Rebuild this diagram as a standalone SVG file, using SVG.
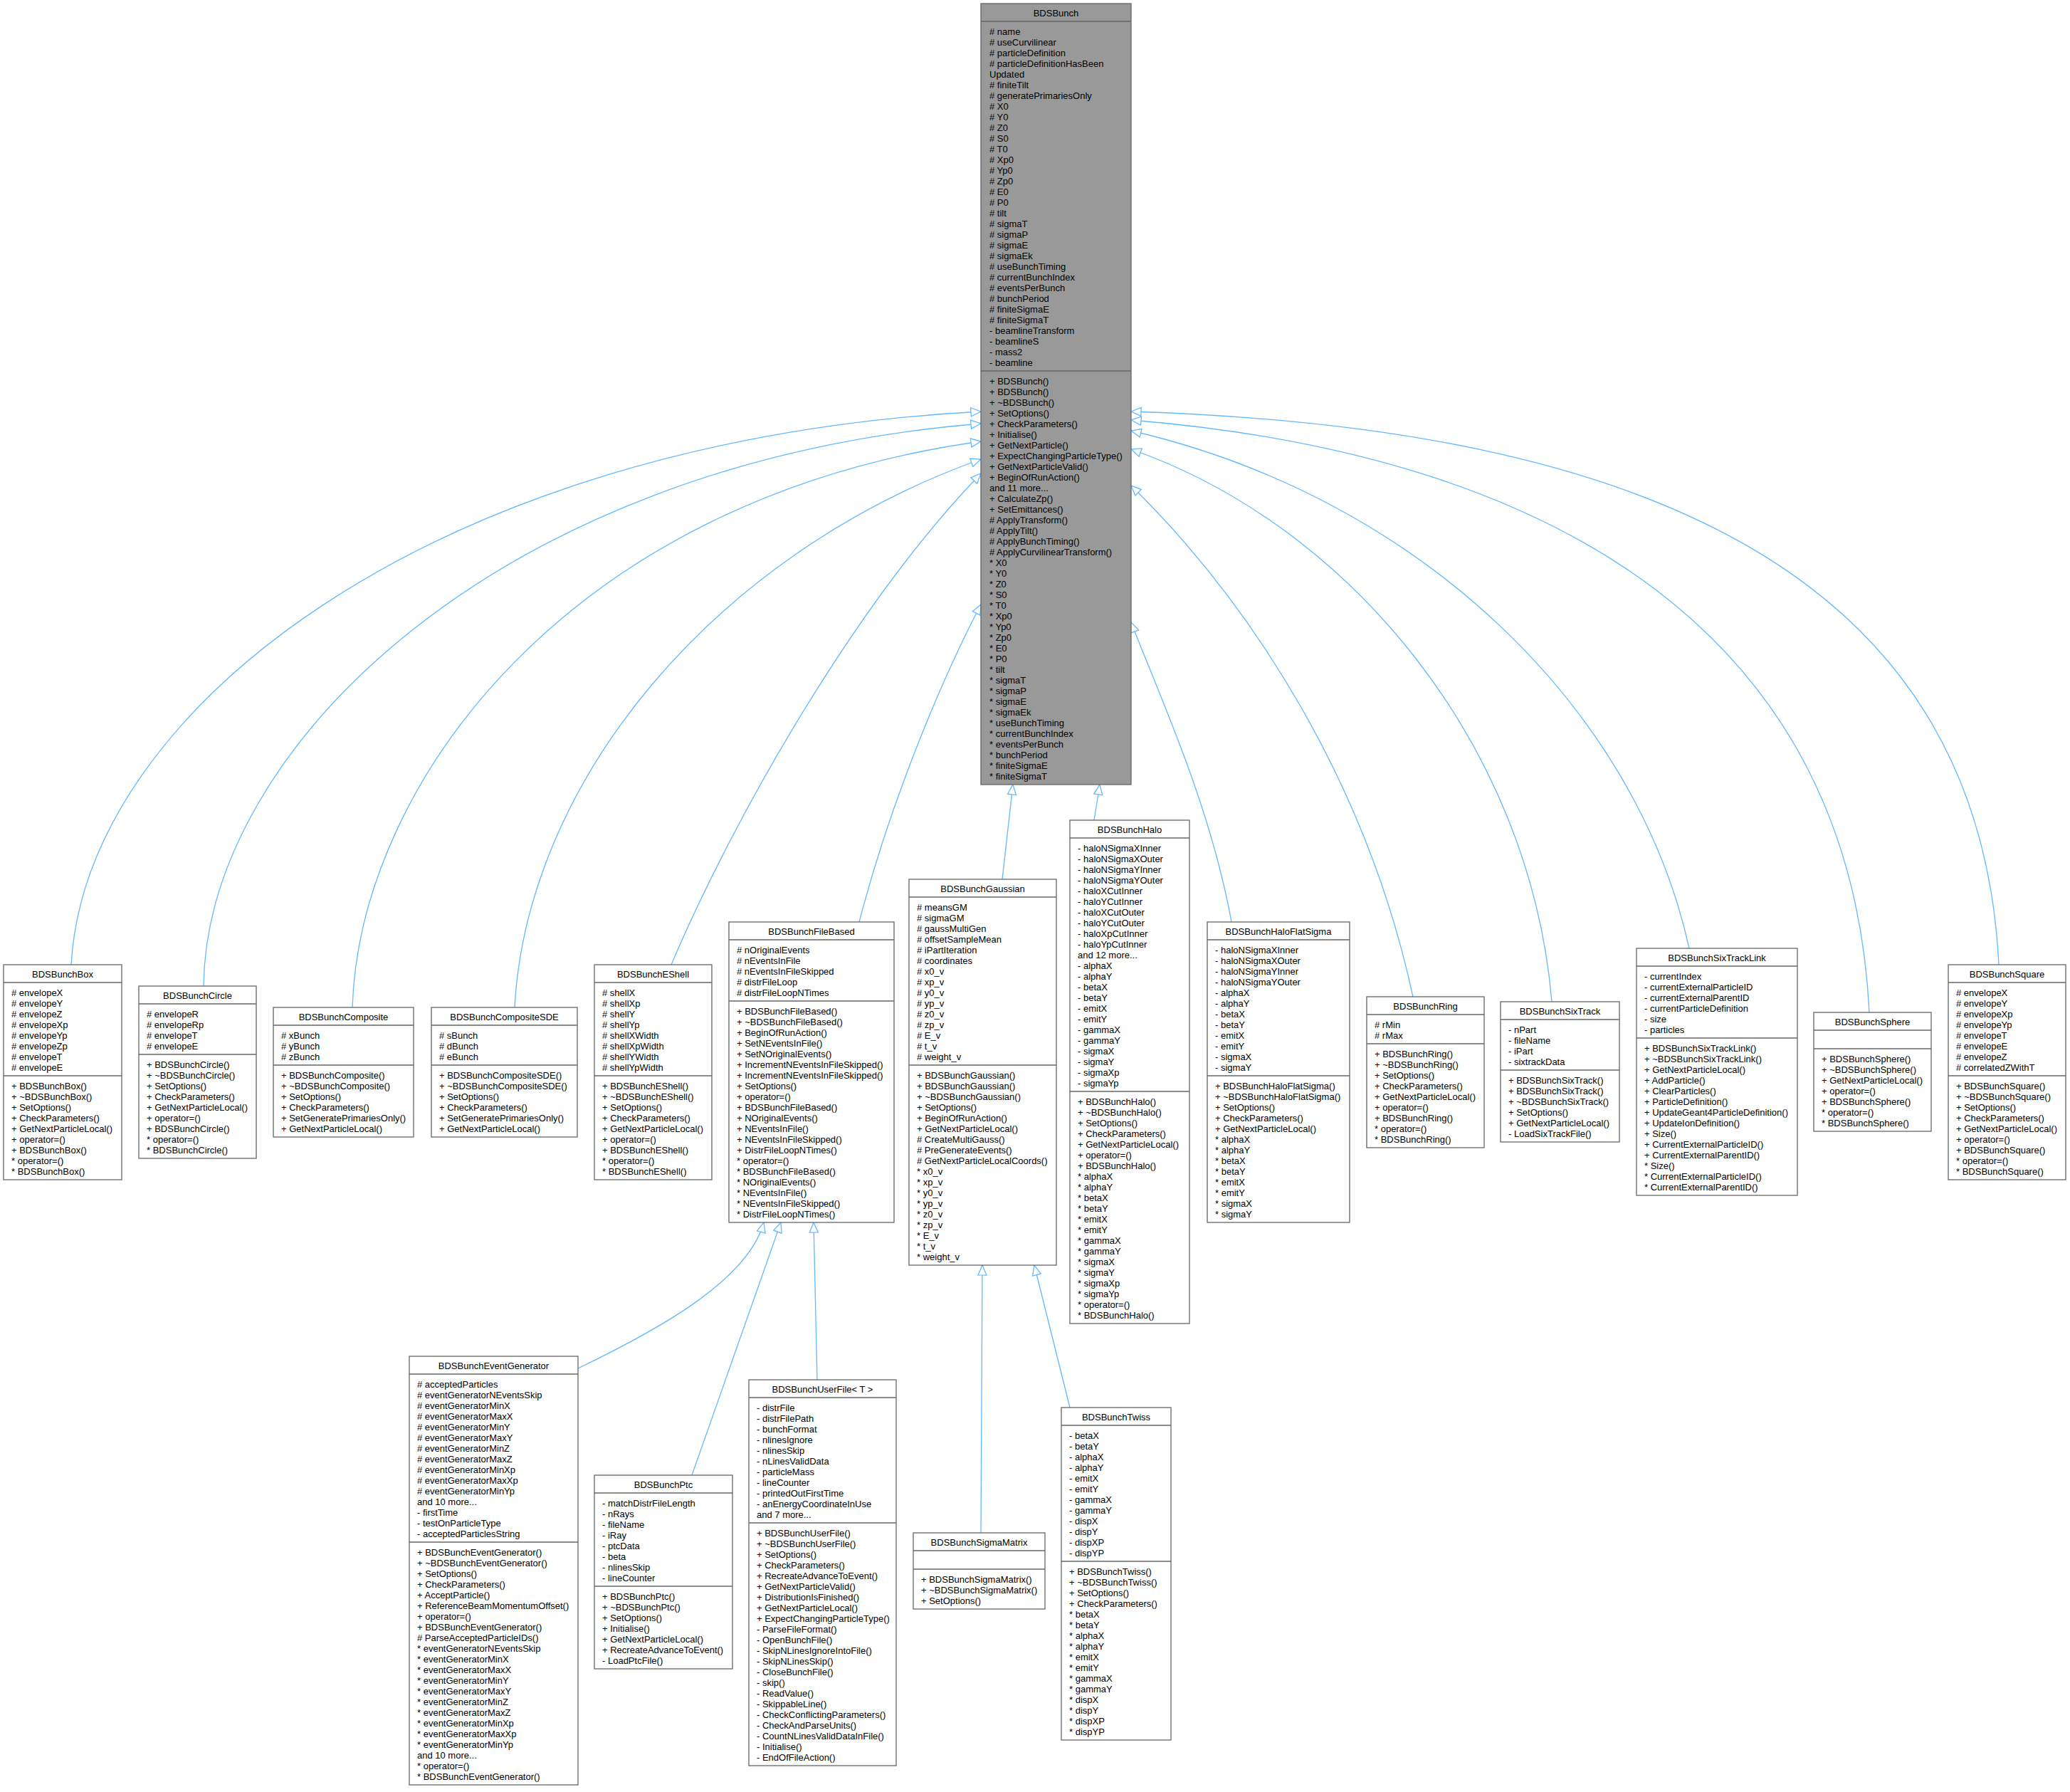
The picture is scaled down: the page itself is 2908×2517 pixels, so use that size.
<svg xmlns="http://www.w3.org/2000/svg" width="2908" height="2517" viewBox="0 0 2908 2517">
<style>
.bg{fill:#fff}
.box{fill:#fff;stroke:#666;stroke-width:1.3}
.root{fill:#999;stroke:#666;stroke-width:1.3}
.dv{stroke:#666;stroke-width:1.3}
text{font-family:"Liberation Sans",Arial,Helvetica,sans-serif;font-size:13px;fill:#000}
.c{text-anchor:middle}
.e path{fill:none;stroke:#63B8FF;stroke-width:1.3;marker-end:url(#tri)}
</style>
<defs>
<marker id="tri" markerUnits="userSpaceOnUse" markerWidth="18" markerHeight="16" refX="15" refY="7" orient="auto">
<path d="M1,1 L15,7 L1,13 Z" fill="#fff" stroke="#63B8FF" stroke-width="1.3"/>
</marker>
</defs>
<rect class="bg" x="0" y="0" width="2908" height="2517"/>
<g id="edges" class="e">
<path d="M100,1355 C120,1000 600,620 1378,578"/>
<path d="M286,1385 C290,1050 700,650 1378,595"/>
<path d="M495,1415 C505,1100 800,700 1378,620"/>
<path d="M723,1415 C740,1100 1000,780 1378,645"/>
<path d="M943,1355 C1030,1150 1200,850 1378,665"/>
<path d="M1207,1295 C1250,1130 1320,960 1378,849"/>
<path d="M1408,1235 L1423,1102"/>
<path d="M1537,1152 L1545,1102"/>
<path d="M1730,1295 C1700,1130 1630,980 1589,874"/>
<path d="M1985,1400 C1920,1100 1760,850 1589,682"/>
<path d="M2180,1407 C2150,1050 1900,740 1589,631"/>
<path d="M2373,1332 C2300,1000 2000,700 1589,605"/>
<path d="M2626,1422 C2600,900 2200,640 1589,590"/>
<path d="M2808,1355 C2780,800 2300,600 1589,578"/>
<path d="M812,1922 C920,1870 1050,1800 1073,1717"/>
<path d="M972,2072 L1097,1717"/>
<path d="M1148,1938 L1143,1717"/>
<path d="M1378,2153 L1380,1777"/>
<path d="M1503,1977 L1453,1777"/>
</g>

<g id="BDSBunch">
<rect class="root" x="1378" y="5" width="211" height="1097"/>
<line class="dv" x1="1378" y1="30" x2="1589" y2="30"/>
<line class="dv" x1="1378" y1="521" x2="1589" y2="521"/>
<text class="c" x="1483.5" y="22.5">BDSBunch</text>
<text y="48.5"><tspan x="1390"># name</tspan><tspan x="1390" dy="15"># useCurvilinear</tspan><tspan x="1390" dy="15"># particleDefinition</tspan><tspan x="1390" dy="15"># particleDefinitionHasBeen</tspan><tspan x="1390" dy="15">Updated</tspan><tspan x="1390" dy="15"># finiteTilt</tspan><tspan x="1390" dy="15"># generatePrimariesOnly</tspan><tspan x="1390" dy="15"># X0</tspan><tspan x="1390" dy="15"># Y0</tspan><tspan x="1390" dy="15"># Z0</tspan><tspan x="1390" dy="15"># S0</tspan><tspan x="1390" dy="15"># T0</tspan><tspan x="1390" dy="15"># Xp0</tspan><tspan x="1390" dy="15"># Yp0</tspan><tspan x="1390" dy="15"># Zp0</tspan><tspan x="1390" dy="15"># E0</tspan><tspan x="1390" dy="15"># P0</tspan><tspan x="1390" dy="15"># tilt</tspan><tspan x="1390" dy="15"># sigmaT</tspan><tspan x="1390" dy="15"># sigmaP</tspan><tspan x="1390" dy="15"># sigmaE</tspan><tspan x="1390" dy="15"># sigmaEk</tspan><tspan x="1390" dy="15"># useBunchTiming</tspan><tspan x="1390" dy="15"># currentBunchIndex</tspan><tspan x="1390" dy="15"># eventsPerBunch</tspan><tspan x="1390" dy="15"># bunchPeriod</tspan><tspan x="1390" dy="15"># finiteSigmaE</tspan><tspan x="1390" dy="15"># finiteSigmaT</tspan><tspan x="1390" dy="15">- beamlineTransform</tspan><tspan x="1390" dy="15">- beamlineS</tspan><tspan x="1390" dy="15">- mass2</tspan><tspan x="1390" dy="15">- beamline</tspan></text>
<text y="539.5"><tspan x="1390">+ BDSBunch()</tspan><tspan x="1390" dy="15">+ BDSBunch()</tspan><tspan x="1390" dy="15">+ ~BDSBunch()</tspan><tspan x="1390" dy="15">+ SetOptions()</tspan><tspan x="1390" dy="15">+ CheckParameters()</tspan><tspan x="1390" dy="15">+ Initialise()</tspan><tspan x="1390" dy="15">+ GetNextParticle()</tspan><tspan x="1390" dy="15">+ ExpectChangingParticleType()</tspan><tspan x="1390" dy="15">+ GetNextParticleValid()</tspan><tspan x="1390" dy="15">+ BeginOfRunAction()</tspan><tspan x="1390" dy="15">and 11 more...</tspan><tspan x="1390" dy="15">+ CalculateZp()</tspan><tspan x="1390" dy="15">+ SetEmittances()</tspan><tspan x="1390" dy="15"># ApplyTransform()</tspan><tspan x="1390" dy="15"># ApplyTilt()</tspan><tspan x="1390" dy="15"># ApplyBunchTiming()</tspan><tspan x="1390" dy="15"># ApplyCurvilinearTransform()</tspan><tspan x="1390" dy="15">* X0</tspan><tspan x="1390" dy="15">* Y0</tspan><tspan x="1390" dy="15">* Z0</tspan><tspan x="1390" dy="15">* S0</tspan><tspan x="1390" dy="15">* T0</tspan><tspan x="1390" dy="15">* Xp0</tspan><tspan x="1390" dy="15">* Yp0</tspan><tspan x="1390" dy="15">* Zp0</tspan><tspan x="1390" dy="15">* E0</tspan><tspan x="1390" dy="15">* P0</tspan><tspan x="1390" dy="15">* tilt</tspan><tspan x="1390" dy="15">* sigmaT</tspan><tspan x="1390" dy="15">* sigmaP</tspan><tspan x="1390" dy="15">* sigmaE</tspan><tspan x="1390" dy="15">* sigmaEk</tspan><tspan x="1390" dy="15">* useBunchTiming</tspan><tspan x="1390" dy="15">* currentBunchIndex</tspan><tspan x="1390" dy="15">* eventsPerBunch</tspan><tspan x="1390" dy="15">* bunchPeriod</tspan><tspan x="1390" dy="15">* finiteSigmaE</tspan><tspan x="1390" dy="15">* finiteSigmaT</tspan></text>
</g>

<g id="BDSBunchBox">
<rect class="box" x="5" y="1355" width="166" height="302"/>
<line class="dv" x1="5" y1="1380" x2="171" y2="1380"/>
<line class="dv" x1="5" y1="1511" x2="171" y2="1511"/>
<text class="c" x="88" y="1372.5">BDSBunchBox</text>
<text y="1398.5"><tspan x="16"># envelopeX</tspan><tspan x="16" dy="15"># envelopeY</tspan><tspan x="16" dy="15"># envelopeZ</tspan><tspan x="16" dy="15"># envelopeXp</tspan><tspan x="16" dy="15"># envelopeYp</tspan><tspan x="16" dy="15"># envelopeZp</tspan><tspan x="16" dy="15"># envelopeT</tspan><tspan x="16" dy="15"># envelopeE</tspan></text>
<text y="1529.5"><tspan x="16">+ BDSBunchBox()</tspan><tspan x="16" dy="15">+ ~BDSBunchBox()</tspan><tspan x="16" dy="15">+ SetOptions()</tspan><tspan x="16" dy="15">+ CheckParameters()</tspan><tspan x="16" dy="15">+ GetNextParticleLocal()</tspan><tspan x="16" dy="15">+ operator=()</tspan><tspan x="16" dy="15">+ BDSBunchBox()</tspan><tspan x="16" dy="15">* operator=()</tspan><tspan x="16" dy="15">* BDSBunchBox()</tspan></text>
</g>

<g id="BDSBunchCircle">
<rect class="box" x="195" y="1385" width="165" height="242"/>
<line class="dv" x1="195" y1="1410" x2="360" y2="1410"/>
<line class="dv" x1="195" y1="1481" x2="360" y2="1481"/>
<text class="c" x="277.5" y="1402.5">BDSBunchCircle</text>
<text y="1428.5"><tspan x="206"># envelopeR</tspan><tspan x="206" dy="15"># envelopeRp</tspan><tspan x="206" dy="15"># envelopeT</tspan><tspan x="206" dy="15"># envelopeE</tspan></text>
<text y="1499.5"><tspan x="206">+ BDSBunchCircle()</tspan><tspan x="206" dy="15">+ ~BDSBunchCircle()</tspan><tspan x="206" dy="15">+ SetOptions()</tspan><tspan x="206" dy="15">+ CheckParameters()</tspan><tspan x="206" dy="15">+ GetNextParticleLocal()</tspan><tspan x="206" dy="15">+ operator=()</tspan><tspan x="206" dy="15">+ BDSBunchCircle()</tspan><tspan x="206" dy="15">* operator=()</tspan><tspan x="206" dy="15">* BDSBunchCircle()</tspan></text>
</g>

<g id="BDSBunchComposite">
<rect class="box" x="384" y="1415" width="197" height="182"/>
<line class="dv" x1="384" y1="1440" x2="581" y2="1440"/>
<line class="dv" x1="384" y1="1496" x2="581" y2="1496"/>
<text class="c" x="482.5" y="1432.5">BDSBunchComposite</text>
<text y="1458.5"><tspan x="395"># xBunch</tspan><tspan x="395" dy="15"># yBunch</tspan><tspan x="395" dy="15"># zBunch</tspan></text>
<text y="1514.5"><tspan x="395">+ BDSBunchComposite()</tspan><tspan x="395" dy="15">+ ~BDSBunchComposite()</tspan><tspan x="395" dy="15">+ SetOptions()</tspan><tspan x="395" dy="15">+ CheckParameters()</tspan><tspan x="395" dy="15">+ SetGeneratePrimariesOnly()</tspan><tspan x="395" dy="15">+ GetNextParticleLocal()</tspan></text>
</g>

<g id="BDSBunchCompositeSDE">
<rect class="box" x="606" y="1415" width="205" height="182"/>
<line class="dv" x1="606" y1="1440" x2="811" y2="1440"/>
<line class="dv" x1="606" y1="1496" x2="811" y2="1496"/>
<text class="c" x="708.5" y="1432.5">BDSBunchCompositeSDE</text>
<text y="1458.5"><tspan x="617"># sBunch</tspan><tspan x="617" dy="15"># dBunch</tspan><tspan x="617" dy="15"># eBunch</tspan></text>
<text y="1514.5"><tspan x="617">+ BDSBunchCompositeSDE()</tspan><tspan x="617" dy="15">+ ~BDSBunchCompositeSDE()</tspan><tspan x="617" dy="15">+ SetOptions()</tspan><tspan x="617" dy="15">+ CheckParameters()</tspan><tspan x="617" dy="15">+ SetGeneratePrimariesOnly()</tspan><tspan x="617" dy="15">+ GetNextParticleLocal()</tspan></text>
</g>

<g id="BDSBunchEShell">
<rect class="box" x="835" y="1355" width="165" height="302"/>
<line class="dv" x1="835" y1="1380" x2="1000" y2="1380"/>
<line class="dv" x1="835" y1="1511" x2="1000" y2="1511"/>
<text class="c" x="917.5" y="1372.5">BDSBunchEShell</text>
<text y="1398.5"><tspan x="846"># shellX</tspan><tspan x="846" dy="15"># shellXp</tspan><tspan x="846" dy="15"># shellY</tspan><tspan x="846" dy="15"># shellYp</tspan><tspan x="846" dy="15"># shellXWidth</tspan><tspan x="846" dy="15"># shellXpWidth</tspan><tspan x="846" dy="15"># shellYWidth</tspan><tspan x="846" dy="15"># shellYpWidth</tspan></text>
<text y="1529.5"><tspan x="846">+ BDSBunchEShell()</tspan><tspan x="846" dy="15">+ ~BDSBunchEShell()</tspan><tspan x="846" dy="15">+ SetOptions()</tspan><tspan x="846" dy="15">+ CheckParameters()</tspan><tspan x="846" dy="15">+ GetNextParticleLocal()</tspan><tspan x="846" dy="15">+ operator=()</tspan><tspan x="846" dy="15">+ BDSBunchEShell()</tspan><tspan x="846" dy="15">* operator=()</tspan><tspan x="846" dy="15">* BDSBunchEShell()</tspan></text>
</g>

<g id="BDSBunchFileBased">
<rect class="box" x="1024" y="1295" width="232" height="422"/>
<line class="dv" x1="1024" y1="1320" x2="1256" y2="1320"/>
<line class="dv" x1="1024" y1="1406" x2="1256" y2="1406"/>
<text class="c" x="1140" y="1312.5">BDSBunchFileBased</text>
<text y="1338.5"><tspan x="1035"># nOriginalEvents</tspan><tspan x="1035" dy="15"># nEventsInFile</tspan><tspan x="1035" dy="15"># nEventsInFileSkipped</tspan><tspan x="1035" dy="15"># distrFileLoop</tspan><tspan x="1035" dy="15"># distrFileLoopNTimes</tspan></text>
<text y="1424.5"><tspan x="1035">+ BDSBunchFileBased()</tspan><tspan x="1035" dy="15">+ ~BDSBunchFileBased()</tspan><tspan x="1035" dy="15">+ BeginOfRunAction()</tspan><tspan x="1035" dy="15">+ SetNEventsInFile()</tspan><tspan x="1035" dy="15">+ SetNOriginalEvents()</tspan><tspan x="1035" dy="15">+ IncrementNEventsInFileSkipped()</tspan><tspan x="1035" dy="15">+ IncrementNEventsInFileSkipped()</tspan><tspan x="1035" dy="15">+ SetOptions()</tspan><tspan x="1035" dy="15">+ operator=()</tspan><tspan x="1035" dy="15">+ BDSBunchFileBased()</tspan><tspan x="1035" dy="15">+ NOriginalEvents()</tspan><tspan x="1035" dy="15">+ NEventsInFile()</tspan><tspan x="1035" dy="15">+ NEventsInFileSkipped()</tspan><tspan x="1035" dy="15">+ DistrFileLoopNTimes()</tspan><tspan x="1035" dy="15">* operator=()</tspan><tspan x="1035" dy="15">* BDSBunchFileBased()</tspan><tspan x="1035" dy="15">* NOriginalEvents()</tspan><tspan x="1035" dy="15">* NEventsInFile()</tspan><tspan x="1035" dy="15">* NEventsInFileSkipped()</tspan><tspan x="1035" dy="15">* DistrFileLoopNTimes()</tspan></text>
</g>

<g id="BDSBunchGaussian">
<rect class="box" x="1277" y="1235" width="207" height="542"/>
<line class="dv" x1="1277" y1="1260" x2="1484" y2="1260"/>
<line class="dv" x1="1277" y1="1496" x2="1484" y2="1496"/>
<text class="c" x="1380.5" y="1252.5">BDSBunchGaussian</text>
<text y="1278.5"><tspan x="1288"># meansGM</tspan><tspan x="1288" dy="15"># sigmaGM</tspan><tspan x="1288" dy="15"># gaussMultiGen</tspan><tspan x="1288" dy="15"># offsetSampleMean</tspan><tspan x="1288" dy="15"># iPartIteration</tspan><tspan x="1288" dy="15"># coordinates</tspan><tspan x="1288" dy="15"># x0_v</tspan><tspan x="1288" dy="15"># xp_v</tspan><tspan x="1288" dy="15"># y0_v</tspan><tspan x="1288" dy="15"># yp_v</tspan><tspan x="1288" dy="15"># z0_v</tspan><tspan x="1288" dy="15"># zp_v</tspan><tspan x="1288" dy="15"># E_v</tspan><tspan x="1288" dy="15"># t_v</tspan><tspan x="1288" dy="15"># weight_v</tspan></text>
<text y="1514.5"><tspan x="1288">+ BDSBunchGaussian()</tspan><tspan x="1288" dy="15">+ BDSBunchGaussian()</tspan><tspan x="1288" dy="15">+ ~BDSBunchGaussian()</tspan><tspan x="1288" dy="15">+ SetOptions()</tspan><tspan x="1288" dy="15">+ BeginOfRunAction()</tspan><tspan x="1288" dy="15">+ GetNextParticleLocal()</tspan><tspan x="1288" dy="15"># CreateMultiGauss()</tspan><tspan x="1288" dy="15"># PreGenerateEvents()</tspan><tspan x="1288" dy="15"># GetNextParticleLocalCoords()</tspan><tspan x="1288" dy="15">* x0_v</tspan><tspan x="1288" dy="15">* xp_v</tspan><tspan x="1288" dy="15">* y0_v</tspan><tspan x="1288" dy="15">* yp_v</tspan><tspan x="1288" dy="15">* z0_v</tspan><tspan x="1288" dy="15">* zp_v</tspan><tspan x="1288" dy="15">* E_v</tspan><tspan x="1288" dy="15">* t_v</tspan><tspan x="1288" dy="15">* weight_v</tspan></text>
</g>

<g id="BDSBunchHalo">
<rect class="box" x="1503" y="1152" width="168" height="707"/>
<line class="dv" x1="1503" y1="1177" x2="1671" y2="1177"/>
<line class="dv" x1="1503" y1="1533" x2="1671" y2="1533"/>
<text class="c" x="1587" y="1169.5">BDSBunchHalo</text>
<text y="1195.5"><tspan x="1514">- haloNSigmaXInner</tspan><tspan x="1514" dy="15">- haloNSigmaXOuter</tspan><tspan x="1514" dy="15">- haloNSigmaYInner</tspan><tspan x="1514" dy="15">- haloNSigmaYOuter</tspan><tspan x="1514" dy="15">- haloXCutInner</tspan><tspan x="1514" dy="15">- haloYCutInner</tspan><tspan x="1514" dy="15">- haloXCutOuter</tspan><tspan x="1514" dy="15">- haloYCutOuter</tspan><tspan x="1514" dy="15">- haloXpCutInner</tspan><tspan x="1514" dy="15">- haloYpCutInner</tspan><tspan x="1514" dy="15">and 12 more...</tspan><tspan x="1514" dy="15">- alphaX</tspan><tspan x="1514" dy="15">- alphaY</tspan><tspan x="1514" dy="15">- betaX</tspan><tspan x="1514" dy="15">- betaY</tspan><tspan x="1514" dy="15">- emitX</tspan><tspan x="1514" dy="15">- emitY</tspan><tspan x="1514" dy="15">- gammaX</tspan><tspan x="1514" dy="15">- gammaY</tspan><tspan x="1514" dy="15">- sigmaX</tspan><tspan x="1514" dy="15">- sigmaY</tspan><tspan x="1514" dy="15">- sigmaXp</tspan><tspan x="1514" dy="15">- sigmaYp</tspan></text>
<text y="1551.5"><tspan x="1514">+ BDSBunchHalo()</tspan><tspan x="1514" dy="15">+ ~BDSBunchHalo()</tspan><tspan x="1514" dy="15">+ SetOptions()</tspan><tspan x="1514" dy="15">+ CheckParameters()</tspan><tspan x="1514" dy="15">+ GetNextParticleLocal()</tspan><tspan x="1514" dy="15">+ operator=()</tspan><tspan x="1514" dy="15">+ BDSBunchHalo()</tspan><tspan x="1514" dy="15">* alphaX</tspan><tspan x="1514" dy="15">* alphaY</tspan><tspan x="1514" dy="15">* betaX</tspan><tspan x="1514" dy="15">* betaY</tspan><tspan x="1514" dy="15">* emitX</tspan><tspan x="1514" dy="15">* emitY</tspan><tspan x="1514" dy="15">* gammaX</tspan><tspan x="1514" dy="15">* gammaY</tspan><tspan x="1514" dy="15">* sigmaX</tspan><tspan x="1514" dy="15">* sigmaY</tspan><tspan x="1514" dy="15">* sigmaXp</tspan><tspan x="1514" dy="15">* sigmaYp</tspan><tspan x="1514" dy="15">* operator=()</tspan><tspan x="1514" dy="15">* BDSBunchHalo()</tspan></text>
</g>

<g id="BDSBunchHaloFlatSigma">
<rect class="box" x="1696" y="1295" width="200" height="422"/>
<line class="dv" x1="1696" y1="1320" x2="1896" y2="1320"/>
<line class="dv" x1="1696" y1="1511" x2="1896" y2="1511"/>
<text class="c" x="1796" y="1312.5">BDSBunchHaloFlatSigma</text>
<text y="1338.5"><tspan x="1707">- haloNSigmaXInner</tspan><tspan x="1707" dy="15">- haloNSigmaXOuter</tspan><tspan x="1707" dy="15">- haloNSigmaYInner</tspan><tspan x="1707" dy="15">- haloNSigmaYOuter</tspan><tspan x="1707" dy="15">- alphaX</tspan><tspan x="1707" dy="15">- alphaY</tspan><tspan x="1707" dy="15">- betaX</tspan><tspan x="1707" dy="15">- betaY</tspan><tspan x="1707" dy="15">- emitX</tspan><tspan x="1707" dy="15">- emitY</tspan><tspan x="1707" dy="15">- sigmaX</tspan><tspan x="1707" dy="15">- sigmaY</tspan></text>
<text y="1529.5"><tspan x="1707">+ BDSBunchHaloFlatSigma()</tspan><tspan x="1707" dy="15">+ ~BDSBunchHaloFlatSigma()</tspan><tspan x="1707" dy="15">+ SetOptions()</tspan><tspan x="1707" dy="15">+ CheckParameters()</tspan><tspan x="1707" dy="15">+ GetNextParticleLocal()</tspan><tspan x="1707" dy="15">* alphaX</tspan><tspan x="1707" dy="15">* alphaY</tspan><tspan x="1707" dy="15">* betaX</tspan><tspan x="1707" dy="15">* betaY</tspan><tspan x="1707" dy="15">* emitX</tspan><tspan x="1707" dy="15">* emitY</tspan><tspan x="1707" dy="15">* sigmaX</tspan><tspan x="1707" dy="15">* sigmaY</tspan></text>
</g>

<g id="BDSBunchRing">
<rect class="box" x="1920" y="1400" width="165" height="212"/>
<line class="dv" x1="1920" y1="1425" x2="2085" y2="1425"/>
<line class="dv" x1="1920" y1="1466" x2="2085" y2="1466"/>
<text class="c" x="2002.5" y="1417.5">BDSBunchRing</text>
<text y="1443.5"><tspan x="1931"># rMin</tspan><tspan x="1931" dy="15"># rMax</tspan></text>
<text y="1484.5"><tspan x="1931">+ BDSBunchRing()</tspan><tspan x="1931" dy="15">+ ~BDSBunchRing()</tspan><tspan x="1931" dy="15">+ SetOptions()</tspan><tspan x="1931" dy="15">+ CheckParameters()</tspan><tspan x="1931" dy="15">+ GetNextParticleLocal()</tspan><tspan x="1931" dy="15">+ operator=()</tspan><tspan x="1931" dy="15">+ BDSBunchRing()</tspan><tspan x="1931" dy="15">* operator=()</tspan><tspan x="1931" dy="15">* BDSBunchRing()</tspan></text>
</g>

<g id="BDSBunchSixTrack">
<rect class="box" x="2108" y="1407" width="167" height="197"/>
<line class="dv" x1="2108" y1="1432" x2="2275" y2="1432"/>
<line class="dv" x1="2108" y1="1503" x2="2275" y2="1503"/>
<text class="c" x="2191.5" y="1424.5">BDSBunchSixTrack</text>
<text y="1450.5"><tspan x="2119">- nPart</tspan><tspan x="2119" dy="15">- fileName</tspan><tspan x="2119" dy="15">- iPart</tspan><tspan x="2119" dy="15">- sixtrackData</tspan></text>
<text y="1521.5"><tspan x="2119">+ BDSBunchSixTrack()</tspan><tspan x="2119" dy="15">+ BDSBunchSixTrack()</tspan><tspan x="2119" dy="15">+ ~BDSBunchSixTrack()</tspan><tspan x="2119" dy="15">+ SetOptions()</tspan><tspan x="2119" dy="15">+ GetNextParticleLocal()</tspan><tspan x="2119" dy="15">- LoadSixTrackFile()</tspan></text>
</g>

<g id="BDSBunchSixTrackLink">
<rect class="box" x="2299" y="1332" width="226" height="347"/>
<line class="dv" x1="2299" y1="1357" x2="2525" y2="1357"/>
<line class="dv" x1="2299" y1="1458" x2="2525" y2="1458"/>
<text class="c" x="2412" y="1349.5">BDSBunchSixTrackLink</text>
<text y="1375.5"><tspan x="2310">- currentIndex</tspan><tspan x="2310" dy="15">- currentExternalParticleID</tspan><tspan x="2310" dy="15">- currentExternalParentID</tspan><tspan x="2310" dy="15">- currentParticleDefinition</tspan><tspan x="2310" dy="15">- size</tspan><tspan x="2310" dy="15">- particles</tspan></text>
<text y="1476.5"><tspan x="2310">+ BDSBunchSixTrackLink()</tspan><tspan x="2310" dy="15">+ ~BDSBunchSixTrackLink()</tspan><tspan x="2310" dy="15">+ GetNextParticleLocal()</tspan><tspan x="2310" dy="15">+ AddParticle()</tspan><tspan x="2310" dy="15">+ ClearParticles()</tspan><tspan x="2310" dy="15">+ ParticleDefinition()</tspan><tspan x="2310" dy="15">+ UpdateGeant4ParticleDefinition()</tspan><tspan x="2310" dy="15">+ UpdateIonDefinition()</tspan><tspan x="2310" dy="15">+ Size()</tspan><tspan x="2310" dy="15">+ CurrentExternalParticleID()</tspan><tspan x="2310" dy="15">+ CurrentExternalParentID()</tspan><tspan x="2310" dy="15">* Size()</tspan><tspan x="2310" dy="15">* CurrentExternalParticleID()</tspan><tspan x="2310" dy="15">* CurrentExternalParentID()</tspan></text>
</g>

<g id="BDSBunchSphere">
<rect class="box" x="2548" y="1422" width="165" height="167"/>
<line class="dv" x1="2548" y1="1447" x2="2713" y2="1447"/>
<line class="dv" x1="2548" y1="1473" x2="2713" y2="1473"/>
<text class="c" x="2630.5" y="1439.5">BDSBunchSphere</text>
<text y="1491.5"><tspan x="2559">+ BDSBunchSphere()</tspan><tspan x="2559" dy="15">+ ~BDSBunchSphere()</tspan><tspan x="2559" dy="15">+ GetNextParticleLocal()</tspan><tspan x="2559" dy="15">+ operator=()</tspan><tspan x="2559" dy="15">+ BDSBunchSphere()</tspan><tspan x="2559" dy="15">* operator=()</tspan><tspan x="2559" dy="15">* BDSBunchSphere()</tspan></text>
</g>

<g id="BDSBunchSquare">
<rect class="box" x="2737" y="1355" width="165" height="302"/>
<line class="dv" x1="2737" y1="1380" x2="2902" y2="1380"/>
<line class="dv" x1="2737" y1="1511" x2="2902" y2="1511"/>
<text class="c" x="2819.5" y="1372.5">BDSBunchSquare</text>
<text y="1398.5"><tspan x="2748"># envelopeX</tspan><tspan x="2748" dy="15"># envelopeY</tspan><tspan x="2748" dy="15"># envelopeXp</tspan><tspan x="2748" dy="15"># envelopeYp</tspan><tspan x="2748" dy="15"># envelopeT</tspan><tspan x="2748" dy="15"># envelopeE</tspan><tspan x="2748" dy="15"># envelopeZ</tspan><tspan x="2748" dy="15"># correlatedZWithT</tspan></text>
<text y="1529.5"><tspan x="2748">+ BDSBunchSquare()</tspan><tspan x="2748" dy="15">+ ~BDSBunchSquare()</tspan><tspan x="2748" dy="15">+ SetOptions()</tspan><tspan x="2748" dy="15">+ CheckParameters()</tspan><tspan x="2748" dy="15">+ GetNextParticleLocal()</tspan><tspan x="2748" dy="15">+ operator=()</tspan><tspan x="2748" dy="15">+ BDSBunchSquare()</tspan><tspan x="2748" dy="15">* operator=()</tspan><tspan x="2748" dy="15">* BDSBunchSquare()</tspan></text>
</g>

<g id="BDSBunchEventGenerator">
<rect class="box" x="575" y="1905" width="237" height="602"/>
<line class="dv" x1="575" y1="1930" x2="812" y2="1930"/>
<line class="dv" x1="575" y1="2166" x2="812" y2="2166"/>
<text class="c" x="693.5" y="1922.5">BDSBunchEventGenerator</text>
<text y="1948.5"><tspan x="586"># acceptedParticles</tspan><tspan x="586" dy="15"># eventGeneratorNEventsSkip</tspan><tspan x="586" dy="15"># eventGeneratorMinX</tspan><tspan x="586" dy="15"># eventGeneratorMaxX</tspan><tspan x="586" dy="15"># eventGeneratorMinY</tspan><tspan x="586" dy="15"># eventGeneratorMaxY</tspan><tspan x="586" dy="15"># eventGeneratorMinZ</tspan><tspan x="586" dy="15"># eventGeneratorMaxZ</tspan><tspan x="586" dy="15"># eventGeneratorMinXp</tspan><tspan x="586" dy="15"># eventGeneratorMaxXp</tspan><tspan x="586" dy="15"># eventGeneratorMinYp</tspan><tspan x="586" dy="15">and 10 more...</tspan><tspan x="586" dy="15">- firstTime</tspan><tspan x="586" dy="15">- testOnParticleType</tspan><tspan x="586" dy="15">- acceptedParticlesString</tspan></text>
<text y="2184.5"><tspan x="586">+ BDSBunchEventGenerator()</tspan><tspan x="586" dy="15">+ ~BDSBunchEventGenerator()</tspan><tspan x="586" dy="15">+ SetOptions()</tspan><tspan x="586" dy="15">+ CheckParameters()</tspan><tspan x="586" dy="15">+ AcceptParticle()</tspan><tspan x="586" dy="15">+ ReferenceBeamMomentumOffset()</tspan><tspan x="586" dy="15">+ operator=()</tspan><tspan x="586" dy="15">+ BDSBunchEventGenerator()</tspan><tspan x="586" dy="15"># ParseAcceptedParticleIDs()</tspan><tspan x="586" dy="15">* eventGeneratorNEventsSkip</tspan><tspan x="586" dy="15">* eventGeneratorMinX</tspan><tspan x="586" dy="15">* eventGeneratorMaxX</tspan><tspan x="586" dy="15">* eventGeneratorMinY</tspan><tspan x="586" dy="15">* eventGeneratorMaxY</tspan><tspan x="586" dy="15">* eventGeneratorMinZ</tspan><tspan x="586" dy="15">* eventGeneratorMaxZ</tspan><tspan x="586" dy="15">* eventGeneratorMinXp</tspan><tspan x="586" dy="15">* eventGeneratorMaxXp</tspan><tspan x="586" dy="15">* eventGeneratorMinYp</tspan><tspan x="586" dy="15">and 10 more...</tspan><tspan x="586" dy="15">* operator=()</tspan><tspan x="586" dy="15">* BDSBunchEventGenerator()</tspan></text>
</g>

<g id="BDSBunchPtc">
<rect class="box" x="835" y="2072" width="194" height="272"/>
<line class="dv" x1="835" y1="2097" x2="1029" y2="2097"/>
<line class="dv" x1="835" y1="2228" x2="1029" y2="2228"/>
<text class="c" x="932" y="2089.5">BDSBunchPtc</text>
<text y="2115.5"><tspan x="846">- matchDistrFileLength</tspan><tspan x="846" dy="15">- nRays</tspan><tspan x="846" dy="15">- fileName</tspan><tspan x="846" dy="15">- iRay</tspan><tspan x="846" dy="15">- ptcData</tspan><tspan x="846" dy="15">- beta</tspan><tspan x="846" dy="15">- nlinesSkip</tspan><tspan x="846" dy="15">- lineCounter</tspan></text>
<text y="2246.5"><tspan x="846">+ BDSBunchPtc()</tspan><tspan x="846" dy="15">+ ~BDSBunchPtc()</tspan><tspan x="846" dy="15">+ SetOptions()</tspan><tspan x="846" dy="15">+ Initialise()</tspan><tspan x="846" dy="15">+ GetNextParticleLocal()</tspan><tspan x="846" dy="15">+ RecreateAdvanceToEvent()</tspan><tspan x="846" dy="15">- LoadPtcFile()</tspan></text>
</g>

<g id="BDSBunchUserFile">
<rect class="box" x="1052" y="1938" width="207" height="542"/>
<line class="dv" x1="1052" y1="1963" x2="1259" y2="1963"/>
<line class="dv" x1="1052" y1="2139" x2="1259" y2="2139"/>
<text class="c" x="1155.5" y="1955.5">BDSBunchUserFile&lt; T &gt;</text>
<text y="1981.5"><tspan x="1063">- distrFile</tspan><tspan x="1063" dy="15">- distrFilePath</tspan><tspan x="1063" dy="15">- bunchFormat</tspan><tspan x="1063" dy="15">- nlinesIgnore</tspan><tspan x="1063" dy="15">- nlinesSkip</tspan><tspan x="1063" dy="15">- nLinesValidData</tspan><tspan x="1063" dy="15">- particleMass</tspan><tspan x="1063" dy="15">- lineCounter</tspan><tspan x="1063" dy="15">- printedOutFirstTime</tspan><tspan x="1063" dy="15">- anEnergyCoordinateInUse</tspan><tspan x="1063" dy="15">and 7 more...</tspan></text>
<text y="2157.5"><tspan x="1063">+ BDSBunchUserFile()</tspan><tspan x="1063" dy="15">+ ~BDSBunchUserFile()</tspan><tspan x="1063" dy="15">+ SetOptions()</tspan><tspan x="1063" dy="15">+ CheckParameters()</tspan><tspan x="1063" dy="15">+ RecreateAdvanceToEvent()</tspan><tspan x="1063" dy="15">+ GetNextParticleValid()</tspan><tspan x="1063" dy="15">+ DistributionIsFinished()</tspan><tspan x="1063" dy="15">+ GetNextParticleLocal()</tspan><tspan x="1063" dy="15">+ ExpectChangingParticleType()</tspan><tspan x="1063" dy="15">- ParseFileFormat()</tspan><tspan x="1063" dy="15">- OpenBunchFile()</tspan><tspan x="1063" dy="15">- SkipNLinesIgnoreIntoFile()</tspan><tspan x="1063" dy="15">- SkipNLinesSkip()</tspan><tspan x="1063" dy="15">- CloseBunchFile()</tspan><tspan x="1063" dy="15">- skip()</tspan><tspan x="1063" dy="15">- ReadValue()</tspan><tspan x="1063" dy="15">- SkippableLine()</tspan><tspan x="1063" dy="15">- CheckConflictingParameters()</tspan><tspan x="1063" dy="15">- CheckAndParseUnits()</tspan><tspan x="1063" dy="15">- CountNLinesValidDataInFile()</tspan><tspan x="1063" dy="15">- Initialise()</tspan><tspan x="1063" dy="15">- EndOfFileAction()</tspan></text>
</g>

<g id="BDSBunchSigmaMatrix">
<rect class="box" x="1283" y="2153" width="185" height="107"/>
<line class="dv" x1="1283" y1="2178" x2="1468" y2="2178"/>
<line class="dv" x1="1283" y1="2204" x2="1468" y2="2204"/>
<text class="c" x="1375.5" y="2170.5">BDSBunchSigmaMatrix</text>
<text y="2222.5"><tspan x="1294">+ BDSBunchSigmaMatrix()</tspan><tspan x="1294" dy="15">+ ~BDSBunchSigmaMatrix()</tspan><tspan x="1294" dy="15">+ SetOptions()</tspan></text>
</g>

<g id="BDSBunchTwiss">
<rect class="box" x="1491" y="1977" width="154" height="467"/>
<line class="dv" x1="1491" y1="2002" x2="1645" y2="2002"/>
<line class="dv" x1="1491" y1="2193" x2="1645" y2="2193"/>
<text class="c" x="1568" y="1994.5">BDSBunchTwiss</text>
<text y="2020.5"><tspan x="1502">- betaX</tspan><tspan x="1502" dy="15">- betaY</tspan><tspan x="1502" dy="15">- alphaX</tspan><tspan x="1502" dy="15">- alphaY</tspan><tspan x="1502" dy="15">- emitX</tspan><tspan x="1502" dy="15">- emitY</tspan><tspan x="1502" dy="15">- gammaX</tspan><tspan x="1502" dy="15">- gammaY</tspan><tspan x="1502" dy="15">- dispX</tspan><tspan x="1502" dy="15">- dispY</tspan><tspan x="1502" dy="15">- dispXP</tspan><tspan x="1502" dy="15">- dispYP</tspan></text>
<text y="2211.5"><tspan x="1502">+ BDSBunchTwiss()</tspan><tspan x="1502" dy="15">+ ~BDSBunchTwiss()</tspan><tspan x="1502" dy="15">+ SetOptions()</tspan><tspan x="1502" dy="15">+ CheckParameters()</tspan><tspan x="1502" dy="15">* betaX</tspan><tspan x="1502" dy="15">* betaY</tspan><tspan x="1502" dy="15">* alphaX</tspan><tspan x="1502" dy="15">* alphaY</tspan><tspan x="1502" dy="15">* emitX</tspan><tspan x="1502" dy="15">* emitY</tspan><tspan x="1502" dy="15">* gammaX</tspan><tspan x="1502" dy="15">* gammaY</tspan><tspan x="1502" dy="15">* dispX</tspan><tspan x="1502" dy="15">* dispY</tspan><tspan x="1502" dy="15">* dispXP</tspan><tspan x="1502" dy="15">* dispYP</tspan></text>
</g>
</svg>
